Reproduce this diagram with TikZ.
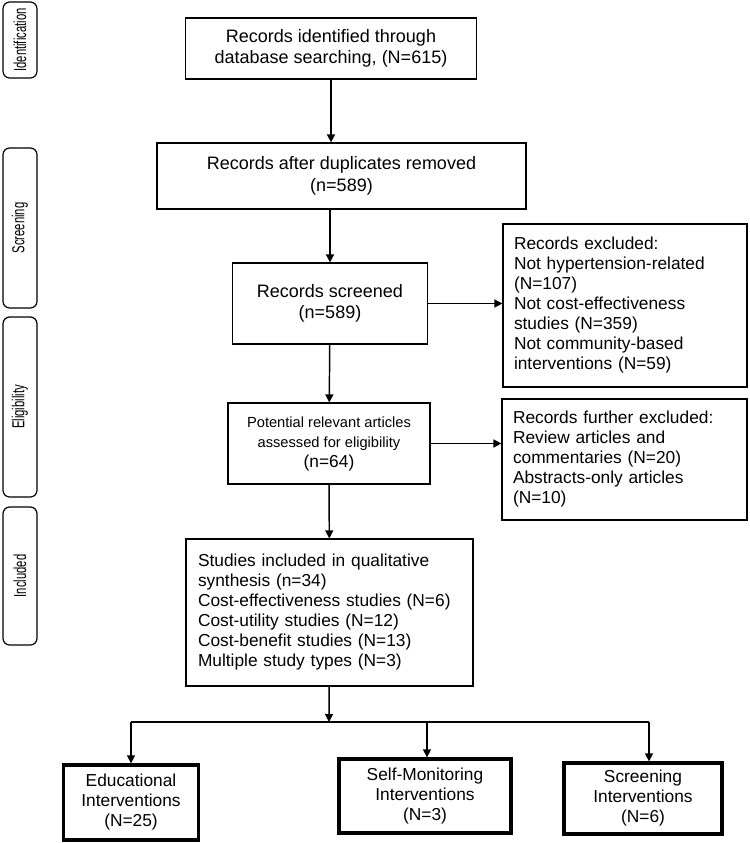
\documentclass[tikz,border=0pt]{standalone}
\usepackage{fontspec}
\usepackage{graphicx}
\setmainfont{Liberation Sans}
\usetikzlibrary{arrows.meta}

\newcommand{\smalltxt}{\fontsize{11}{13}\selectfont}
\newcommand{\bodytxt}{\fontsize{13}{15}\selectfont}
\newcommand{\bigtxt}{\fontsize{13.5}{16}\selectfont}
\newcommand{\phasetxt}[1]{\scalebox{0.65}[1]{\fontsize{13}{15}\selectfont #1}}

\begin{document}
\begin{tikzpicture}[x=0.75pt, y=-0.75pt, every node/.style={draw, line width=0.9pt, align=center, font=\bodytxt}]
        \tikzset{boxsize/.style 2 args={minimum width=#1*0.75pt, minimum height=#2*0.75pt, inner sep=0pt}}
        \tikzset{phase/.style={rounded corners=5pt, rotate=90}}
        \tikzset{listbox/.style={align=left}}
        \tikzset{result/.style={line width=2.5pt}}
        \tikzset{mystyle/.style={->, line width=1.1pt}}
        \tikzset{>={Triangle[length=6pt, width=6pt]}}
        \useasboundingbox (0,0) rectangle (750,843);
        % phases
        \node[phase, boxsize={76}{34}] (identification) at (20,40) {\phasetxt{Identification}};
        \node[phase, boxsize={160}{34}] (screening) at (20,228) {\phasetxt{Screening}};
        \node[phase, boxsize={180}{34}] (eligibility) at (20,407) {\phasetxt{Eligibility}};
        \node[phase, boxsize={138}{34}] (included) at (20,576) {\phasetxt{Included}};
        % main column
        \node[boxsize={291}{61}, font=\bigtxt] (ident) at (331,48.5) {Records identified through\\database searching, (N=615)};
        \node[boxsize={369}{66}, font=\bigtxt] (dup) at (341.5,176) {Records after duplicates removed\\(n=589)};
        \node[boxsize={195}{81}, font=\bigtxt] (scr) at (330,303.5) {Records screened\\(n=589)};
        \node[boxsize={202}{81}] (elig) at (329,443.5) {\smalltxt Potential relevant articles\\\smalltxt assessed for eligibility\\\bodytxt (n=64)};
        \node[listbox, boxsize={287}{147}, text width=197.25pt] (studies) at (329.5,612.5) {Studies included in qualitative\\synthesis (n=34)\\Cost-effectiveness studies (N=6)\\Cost-utility studies (N=12)\\Cost-benefit studies (N=13)\\Multiple study types (N=3)};
        % exclusions
        \node[listbox, boxsize={244}{163}, text width=166.5pt] (excl1) at (625,305.5) {Records excluded:\\Not hypertension-related\\(N=107)\\Not cost-effectiveness\\studies (N=359)\\Not community-based\\interventions (N=59)};
        \node[listbox, boxsize={245}{121}, text width=167.25pt] (excl2) at (624.5,459.5) {Records further excluded:\\Review articles and\\commentaries (N=20)\\Abstracts-only articles\\(N=10)};
        % interventions
        \node[result, boxsize={135}{75}] (edu) at (131,802.5) {Educational\\Interventions\\(N=25)};
        \node[result, boxsize={172}{74}] (self) at (425,796) {Self-Monitoring\\Interventions\\(N=3)};
        \node[result, boxsize={158}{71}] (scrn) at (643,798.5) {Screening\\Interventions\\(N=6)};
        \coordinate (split) at (329,722);
        \coordinate (bl) at (131,722);
        \coordinate (bm) at (427,722);
        \coordinate (br) at (649,722);
        % arrows
        \draw[mystyle] (ident) -- (ident |- dup.north);
        \draw[mystyle] (scr |- dup.south) -- (scr);
        \draw[mystyle] (scr.east) -- (scr.east -| excl1.west);
        \path (scr) edge [mystyle] (elig);
        \draw[mystyle] (elig.east) -- (elig.east -| excl2.west);
        \path (elig) edge [mystyle] (studies);
        \draw[mystyle] (studies) -- (split);
        \draw[line width=1.1pt] (bl) -- (br);
        \draw[mystyle] (bl) -- (bl |- edu.north);
        \draw[mystyle] (bm) -- (bm |- self.north);
        \draw[mystyle] (br) -- (br |- scrn.north);
      \end{tikzpicture}
\end{document}
